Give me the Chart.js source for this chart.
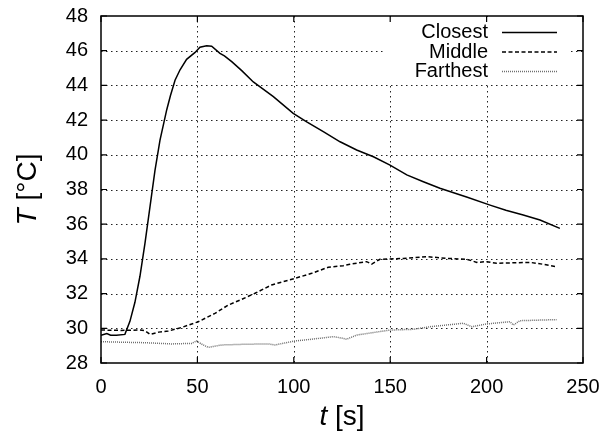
<!DOCTYPE html>
<html>
<head>
<meta charset="utf-8">
<script src="https://cdn.jsdelivr.net/npm/chart.js@4/dist/chart.umd.min.js"></script>
<style>
  html, body { margin: 0; padding: 0; background: #fff; }
  #wrap { width: 605px; height: 431px; }
</style>
</head>
<body>
<div id="wrap"><canvas id="chart"></canvas></div>
<script>
// time [s] and temperature [°C]
const closestTime = [0, 3, 5, 8, 12.4, 15, 17.6, 20.2, 22.8, 25.4, 28, 30.6, 34.1, 36, 38.4, 41, 44.4, 48.8, 51.3, 54.8, 57.4, 61.7, 64, 67.8, 73, 79, 89.4, 99.7, 106.7, 115.3, 124, 132.6, 141.3, 149.9, 158.6, 167.2, 175.8, 190, 201.8, 210, 219, 227.7, 238];
const closestTemp = [29.6, 29.7, 29.6, 29.6, 29.65, 30.4, 31.5, 33.0, 34.9, 37.0, 39.1, 40.85, 42.6, 43.4, 44.3, 44.9, 45.5, 45.9, 46.2, 46.28, 46.26, 45.85, 45.7, 45.37, 44.85, 44.2, 43.35, 42.39, 41.9, 41.33, 40.75, 40.28, 39.89, 39.41, 38.84, 38.45, 38.07, 37.55, 37.1, 36.8, 36.53, 36.24, 35.76];

const middleTime = [0, 10, 20, 22.8, 25.4, 30, 34.9, 41.8, 50.5, 59.1, 66, 73, 79.9, 88.5, 100.6, 109.3, 117.9, 125.7, 129.1, 137.8, 140.4, 144.7, 156.8, 168.9, 179.3, 189.7, 194.9, 200, 205.2, 222.5, 229.4, 236.4];
const middleTemp = [29.9, 29.88, 29.9, 29.86, 29.65, 29.78, 29.84, 30.05, 30.38, 30.86, 31.34, 31.67, 32.02, 32.5, 32.88, 33.17, 33.52, 33.61, 33.69, 33.84, 33.7, 33.98, 34.03, 34.13, 34.03, 33.98, 33.8, 33.84, 33.75, 33.8, 33.69, 33.55];

const farthestTime = [0, 10, 22.8, 36.7, 47, 49.6, 52, 55.6, 62.6, 74.7, 86.8, 90.2, 100.6, 109.3, 120.5, 125.7, 127.4, 132.6, 149.9, 162, 170.6, 187.9, 192.3, 200, 212.1, 213.9, 217.3, 236.4];
const farthestTemp = [29.23, 29.2, 29.17, 29.1, 29.13, 29.27, 29.1, 28.9, 29.04, 29.08, 29.1, 29.04, 29.27, 29.37, 29.52, 29.42, 29.37, 29.61, 29.9, 29.94, 30.09, 30.29, 30.09, 30.25, 30.38, 30.19, 30.44, 30.5];

const seriesNames = ['Closest', 'Middle', 'Farthest'];
const xTicks = [0, 50, 100, 150, 200, 250];
const yTicks = [28, 30, 32, 34, 36, 38, 40, 42, 44, 46, 48];

const FONT = '"Liberation Sans", Arial, sans-serif';

function pairs(xs, ys) {
    return xs.map((x, i) => ({ x: x, y: ys[i] }));
}

const styles = [
    { color: '#000', width: 1.5, dash: [] },
    { color: '#000', width: 1.5, dash: [4, 2.5] },
    { color: '#6e6e6e', width: 1.5, dash: [1, 1] }
];

const datasets = [
    pairs(closestTime, closestTemp),
    pairs(middleTime, middleTemp),
    pairs(farthestTime, farthestTemp)
].map((data, i) => ({
    label: seriesNames[i],
    data: data,
    showLine: true,
    borderColor: styles[i].color,
    borderWidth: styles[i].width,
    borderDash: styles[i].dash,
    pointRadius: 0,
    tension: 0,
    fill: false
}));

// drop the label overflow padding so the layout padding alone places the plot box
function noPad(scale) {
    scale.paddingLeft = 0;
    scale.paddingRight = 0;
    scale.paddingTop = 0;
    scale.paddingBottom = 0;
}

// gnuplot-like frame: dotted grid, inward ticks, key at top right, axis titles
const framePlugin = {
    id: 'frame',
    beforeDatasetsDraw(chart) {
        const { ctx, chartArea: a, scales: { x, y } } = chart;
        ctx.save();
        ctx.strokeStyle = '#222';
        ctx.lineWidth = 1;
        ctx.setLineDash([1.5, 3.5]);
        xTicks.forEach(v => {
            const px = Math.round(x.getPixelForValue(v)) + 0.5;
            if (v === x.min || v === x.max) return;
            ctx.beginPath(); ctx.moveTo(px, a.top); ctx.lineTo(px, a.bottom); ctx.stroke();
        });
        yTicks.forEach(v => {
            const py = Math.round(y.getPixelForValue(v)) + 0.5;
            if (v === y.min || v === y.max) return;
            ctx.beginPath(); ctx.moveTo(a.left, py); ctx.lineTo(a.right, py); ctx.stroke();
        });
        ctx.setLineDash([]);
        // key area is kept clear of the grid
        ctx.fillStyle = '#fff';
        ctx.fillRect(385, a.top + 1, 185, 66);
        ctx.restore();
    },
    afterDatasetsDraw(chart) {
        const { ctx, chartArea: a, scales: { x, y } } = chart;
        ctx.save();
        ctx.strokeStyle = '#000';
        ctx.lineWidth = 1.5;
        ctx.strokeRect(a.left, a.top, a.right - a.left, a.bottom - a.top);
        const tl = 6;
        ctx.lineWidth = 1.2;
        xTicks.forEach(v => {
            const px = x.getPixelForValue(v);
            ctx.beginPath();
            ctx.moveTo(px, a.bottom); ctx.lineTo(px, a.bottom - tl);
            ctx.moveTo(px, a.top); ctx.lineTo(px, a.top + tl);
            ctx.stroke();
        });
        yTicks.forEach(v => {
            const py = y.getPixelForValue(v);
            ctx.beginPath();
            ctx.moveTo(a.left, py); ctx.lineTo(a.left + tl, py);
            ctx.moveTo(a.right, py); ctx.lineTo(a.right - tl, py);
            ctx.stroke();
        });

        // key
        ctx.font = '20px ' + FONT;
        ctx.fillStyle = '#000';
        ctx.textAlign = 'right';
        ctx.textBaseline = 'middle';
        seriesNames.forEach((name, i) => {
            const ry = 32.5 + i * 19.5;
            ctx.fillText(name, 488, ry);
            ctx.strokeStyle = styles[i].color;
            ctx.lineWidth = styles[i].width;
            ctx.setLineDash(styles[i].dash);
            ctx.beginPath(); ctx.moveTo(502, ry); ctx.lineTo(557, ry); ctx.stroke();
        });
        ctx.setLineDash([]);

        // axis titles: italic variable, upright unit
        const italic = 'italic 28px ' + FONT;
        const upright = '28px ' + FONT;
        ctx.textAlign = 'left';
        ctx.textBaseline = 'alphabetic';

        ctx.font = italic; const wt = ctx.measureText('t').width;
        ctx.font = upright; const ws = ctx.measureText(' [s]').width;
        let sx = (a.left + a.right) / 2 - (wt + ws) / 2;
        ctx.font = italic; ctx.fillText('t', sx, 425);
        ctx.font = upright; ctx.fillText(' [s]', sx + wt, 425);

        ctx.font = italic; const wT = ctx.measureText('T').width;
        ctx.font = upright; const wC = ctx.measureText(' [°C]').width;
        ctx.translate(36, (a.top + a.bottom) / 2);
        ctx.rotate(-Math.PI / 2);
        sx = -(wT + wC) / 2;
        ctx.font = italic; ctx.fillText('T', sx, 0);
        ctx.font = upright; ctx.fillText(' [°C]', sx + wT, 0);
        ctx.restore();
    }
};

new Chart(document.getElementById('chart'), {
    type: 'scatter',
    data: { datasets },
    options: {
        responsive: true,
        maintainAspectRatio: false,
        animation: false,
        layout: { padding: { left: 0, right: 22, top: 16, bottom: 0 } },
        plugins: {
            legend: { display: false },
            tooltip: { enabled: false }
        },
        scales: {
            x: {
                type: 'linear',
                min: 0,
                max: 250,
                afterFit(scale) { scale.height = 68; noPad(scale); },
                afterBuildTicks(scale) { scale.ticks = xTicks.map(v => ({ value: v })); },
                grid: { display: false, drawTicks: false },
                border: { display: false },
                ticks: { color: '#000', padding: 12, maxRotation: 0, font: { family: FONT, size: 20 } }
            },
            y: {
                type: 'linear',
                min: 28,
                max: 48,
                afterFit(scale) { scale.width = 101; noPad(scale); },
                afterBuildTicks(scale) { scale.ticks = yTicks.map(v => ({ value: v })); },
                grid: { display: false, drawTicks: false },
                border: { display: false },
                ticks: { color: '#000', padding: 13, font: { family: FONT, size: 20 } }
            }
        }
    },
    plugins: [framePlugin]
});
</script>
</body>
</html>
